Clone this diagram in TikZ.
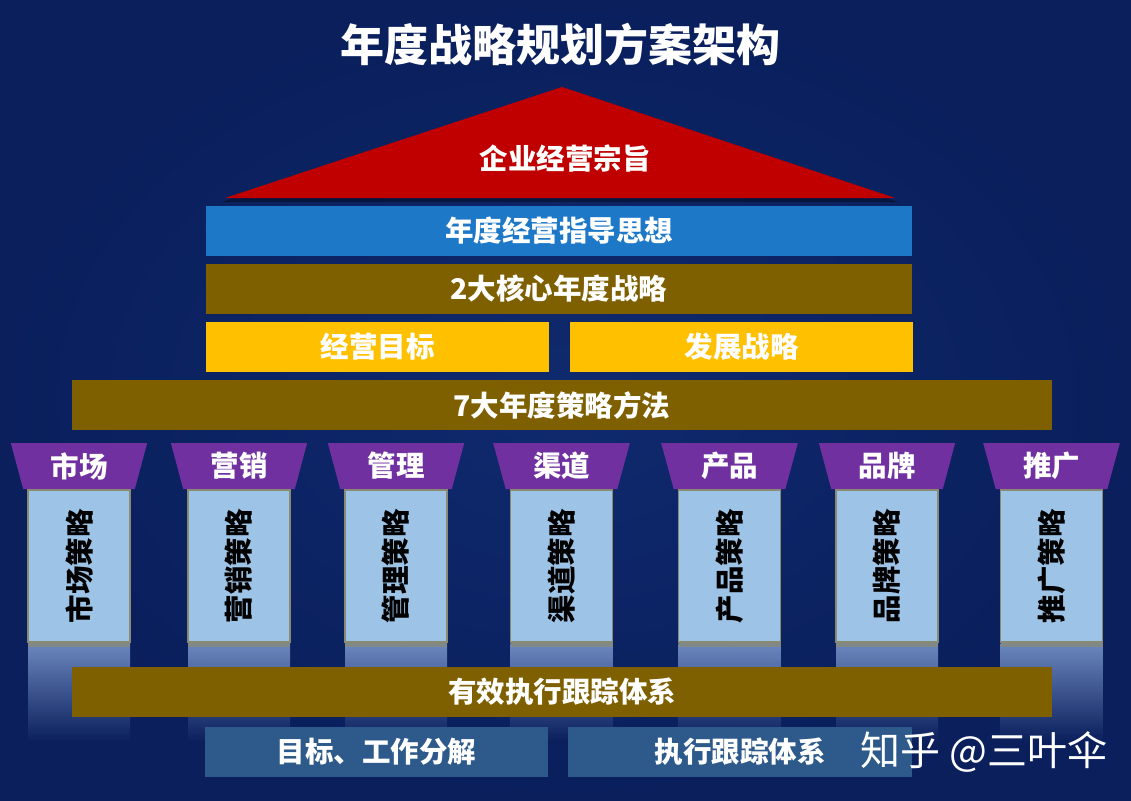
\documentclass[tikz,border=0pt]{standalone}
\usepackage{fontspec}
\setmainfont{Noto Sans CJK SC}
\usetikzlibrary{shapes.geometric}
\definecolor{bgin}{HTML}{0F2A6E}
\definecolor{bgout}{HTML}{0A1F5C}
\definecolor{roofred}{HTML}{C00000}
\definecolor{barblue}{HTML}{1E78C8}
\definecolor{barolive}{HTML}{7F6000}
\definecolor{baryellow}{HTML}{FFC000}
\definecolor{capviolet}{HTML}{7030A0}
\definecolor{pillarblue}{HTML}{9DC3E6}
\definecolor{pillaredge}{HTML}{8A8A72}
\definecolor{footblue}{HTML}{2D5A8A}
\definecolor{reflect}{HTML}{7E9AD0}
\tikzset{
  lbl/.style={text=white, font=\bfseries\fontsize{28.5}{31}\selectfont},
  bar/.style={lbl, minimum height=50pt, inner sep=0pt},
  capbox/.style={trapezium, trapezium stretches=true, shape border rotate=180,
    trapezium left angle=77, trapezium right angle=77,
    minimum width=137pt, minimum height=46pt, fill=capviolet, inner sep=0pt,
    lbl},
  pillarbox/.style={fill=pillarblue, draw=pillaredge, line width=1.2pt,
    minimum width=102pt, minimum height=152pt, inner sep=0pt},
  pillartext/.style={rotate=90, text=black, font=\bfseries\fontsize{28.5}{31}\selectfont},
}
\begin{document}
\begin{tikzpicture}[x=1pt,y=-1pt]
\useasboundingbox (0,0) rectangle (1131,800);
\shade[inner color=bgin, outer color=bgout] (0,0) rectangle (1131,800);

% title
\node[text=white, font=\bfseries\fontsize{44}{48}\selectfont] (title) at (560,45) {年度战略规划方案架构};

% roof
\fill[black, opacity=.35] (562,90) -- (898,202) -- (222,202) -- cycle;
\fill[roofred] (562,87) -- (895,198) -- (225,198) -- cycle;
\node[lbl] (zongzhi) at (565,158) {企业经营宗旨};

% bars
\node[bar, fill=barblue, minimum width=706pt] (sixiang) at (559,231) {年度经营指导思想};
\node[bar, fill=barolive, minimum width=706pt] (hexin) at (559,289) {2大核心年度战略};
\node[bar, fill=baryellow, minimum width=343pt] (mubiao) at (377.5,347) {经营目标};
\node[bar, fill=baryellow, minimum width=343pt] (fazhan) at (741.5,347) {发展战略};
\node[bar, fill=barolive, minimum width=980pt] (fangfa) at (562,405) {7大年度策略方法};

% pillars
\foreach \cx/\nm/\cap in {79/p1/市场, 239/p2/营销, 396/p3/管理, 561.5/p4/渠道, 729.5/p5/产品, 887/p6/品牌, 1051.5/p7/推广}{
  \shade[top color=reflect, bottom color=bgout, opacity=.85] (\cx-51,643) rectangle (\cx+51,742);
  \fill[pillaredge, opacity=.7] (\cx-51,643) rectangle (\cx+51,647);
  \node[capbox] (\nm c) at (\cx,466) {\cap};
  \node[pillarbox] (\nm) at (\cx,566) {};
  \node[pillartext] (\nm t) at (\nm) {\cap 策略};
}

% execution bar
\node[bar, fill=barolive, minimum width=980pt] (genzong) at (562,692) {有效执行跟踪体系};
\node[bar, fill=footblue, minimum width=343pt] (fenjie) at (376.5,752) {目标、工作分解};
\node[bar, fill=footblue, minimum width=344pt] (tixi) at (740,752) {执行跟踪体系};

% watermark
\node[text=white, font=\fontsize{40}{43}\selectfont, anchor=west, inner sep=0pt] (wm) at (860,752) {知乎 @三叶伞};
\end{tikzpicture}
\end{document}
